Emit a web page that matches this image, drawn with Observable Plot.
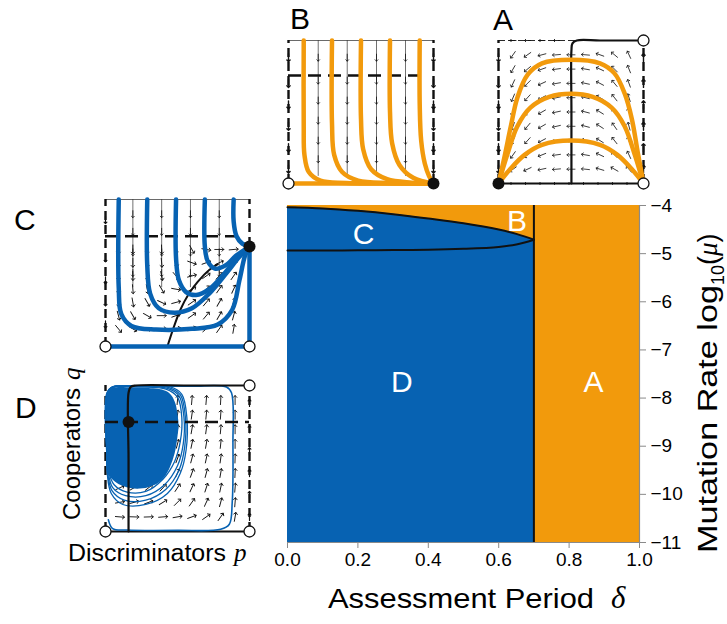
<!DOCTYPE html>
<html><head><meta charset="utf-8">
<script src="https://cdn.jsdelivr.net/npm/d3@7"></script>
<script src="https://cdn.jsdelivr.net/npm/@observablehq/plot@0.6"></script>
<style>
body{margin:0;background:#fff;}
#wrap{position:relative;width:727px;height:624px;overflow:hidden;font-family:"Liberation Sans",Arial,Helvetica,sans-serif;}
#wrap > svg, #wrap > figure{position:absolute;margin:0;}
</style></head><body><div id="wrap"></div>
<script>
// ---------- main chart data ----------
const deltaTicks = [0, 0.2, 0.4, 0.6, 0.8, 1.0];
const muTicks = [-4, -5, -6, -7, -8, -9, -10, -11];
const deltaCrit = 0.7;
const bcDelta = [0, 0.1, 0.2, 0.3, 0.4, 0.5, 0.6, 0.65, 0.7];
const cUpper  = [-4.035, -4.06, -4.11, -4.18, -4.27, -4.37, -4.5, -4.59, -4.71];
const cLower  = [-4.935, -4.935, -4.93, -4.925, -4.92, -4.9, -4.86, -4.81, -4.71];
const regionNames = ["C", "B", "D", "A"];
const regionDelta = [0.216, 0.652, 0.325, 0.869];
const regionMu    = [-4.6, -4.33, -7.68, -7.68];

// ---------- inset B ----------
const bCols = [0.205, 0.405, 0.607, 0.807];
const bArrowY = [0.88, 0.72, 0.58, 0.44, 0.3, 0.17];
const bEdgeY = [0.88, 0.7, 0.55, 0.4, 0.25, 0.1];
const bHoriz = 0.755;
const bTraj = [
  [[0.105,1],[0.105,0.4],[0.11,0.2],[0.14,0.08],[0.22,0.02],[0.4,0.004],[1,0]],
  [[0.3,1],[0.3,0.42],[0.315,0.2],[0.37,0.08],[0.48,0.02],[0.7,0.004],[1,0]],
  [[0.5,1],[0.5,0.45],[0.515,0.24],[0.57,0.1],[0.68,0.03],[0.85,0.006],[1,0]],
  [[0.7,1],[0.7,0.5],[0.715,0.28],[0.765,0.13],[0.86,0.04],[1,0]],
  [[0.905,1],[0.905,0.55],[0.915,0.3],[0.94,0.14],[0.97,0.05],[1,0]]
];
const bOpen = [[0,0]];
const bFilled = [[1,0]];

// ---------- inset A ----------
const aGridX = [0.1,0.2,0.3,0.4,0.5,0.6,0.7,0.8,0.9];
const aGridY = [0.9,0.8,0.7,0.6,0.5,0.4,0.3,0.2,0.1];
const aAngles = [
  [215,235,255,265,270,275,290,310,335],
  [210,230,250,262,270,280,295,315,338],
  [205,225,245,260,270,282,298,320,340],
  [203,222,242,258,270,284,300,322,342],
  [200,220,240,258,270,285,302,325,343],
  [200,220,240,257,270,285,303,325,345],
  [205,222,242,258,270,284,302,322,342],
  [215,230,248,262,270,280,295,315,335],
  [235,245,258,265,270,276,287,300,320]
];
const aArcs = [
  [[0,0],[0.04,0.18],[0.085,0.4],[0.13,0.6],[0.2,0.76],[0.3,0.84],[0.5,0.865],[0.7,0.84],[0.8,0.77],[0.87,0.63],[0.92,0.45],[0.96,0.22],[1,0]],
  [[0,0],[0.06,0.2],[0.13,0.4],[0.22,0.53],[0.35,0.605],[0.5,0.627],[0.65,0.605],[0.78,0.53],[0.87,0.4],[0.94,0.2],[1,0]],
  [[0,0],[0.08,0.1],[0.18,0.2],[0.3,0.27],[0.5,0.3],[0.7,0.27],[0.82,0.2],[0.92,0.1],[1,0]]
];
const aSeparatrix = [[0.503,0],[0.503,0.5],[0.503,0.93],[0.51,0.98],[0.54,1],[0.7,1],[1,1]];
const aEdgeY = [0.88, 0.7, 0.55, 0.4, 0.25, 0.1];
const aBorderX = [0.1,0.2,0.3,0.4,0.5,0.6,0.7,0.8,0.9];
const aOpen = [[1,0],[1,1]];
const aFilled = [[0,0]];

// ---------- inset C ----------
const cCols = [0.19, 0.39, 0.59, 0.79];
const cColArrowY = [0.9, 0.78, 0.64, 0.5];
const cGridX = [0.09,0.19,0.29,0.39,0.49,0.6,0.7,0.79,0.89];
const cGridY = [0.66,0.57,0.48,0.39,0.30,0.21,0.12];
const cAngles = [
  [180,180,180,178,175,150,100,90,85],
  [180,180,178,175,165,110,70,65,55],
  [180,178,175,168,140,75,55,45,35],
  [178,175,168,150,100,60,45,35,25],
  [175,170,150,115,75,55,40,30,20],
  [165,150,120,90,70,55,40,30,15],
  [140,120,100,85,75,65,50,35,10]
];
const cNode = 0.68;
const cHoriz = 0.75;
const cEdgeY = [0.86, 0.6, 0.45, 0.3, 0.15];
const cNullcline = [[0.43,0],[0.47,0.12],[0.52,0.25],[0.58,0.36],[0.64,0.44],[0.72,0.52],[0.78,0.56]];
const cTraj = [
  [[0.092,1],[0.092,0.4],[0.11,0.22],[0.18,0.14],[0.35,0.115],[0.6,0.12],[0.78,0.15],[0.88,0.25],[0.93,0.45],[0.97,0.62],[1,0.68]],
  [[0.29,1],[0.29,0.55],[0.31,0.36],[0.37,0.26],[0.48,0.23],[0.6,0.26],[0.72,0.36],[0.84,0.5],[0.93,0.61],[1,0.68]],
  [[0.49,1],[0.49,0.6],[0.51,0.45],[0.56,0.37],[0.63,0.35],[0.72,0.39],[0.82,0.49],[0.92,0.61],[1,0.68]],
  [[0.69,1],[0.69,0.68],[0.71,0.58],[0.76,0.53],[0.83,0.55],[0.91,0.62],[1,0.68]],
  [[0.89,1],[0.89,0.85],[0.91,0.75],[0.95,0.7],[1,0.68]]
];
const cOpen = [[0,0],[1,0]];

// ---------- inset D ----------
const dGridX = [0.1,0.2,0.3,0.4,0.5,0.6,0.7,0.8,0.9];
const dGridY = [0.9,0.8,0.7,0.6,0.5,0.4,0.3,0.2,0.1];
const dAngles = [
  [10,10,8,5,5,5,5,3,0],
  [15,12,10,8,8,8,6,4,0],
  [20,18,15,12,10,10,8,5,0],
  [30,25,20,18,15,12,10,6,0],
  [40,35,30,25,20,15,12,8,2],
  [50,45,40,32,25,20,15,10,3],
  [65,60,52,42,33,25,18,12,5],
  [80,75,68,58,45,35,25,15,5],
  [95,92,88,85,80,70,55,35,10]
];
const dBlobX   = [0.012,0.03,0.08,0.15,0.22,0.3,0.37,0.42,0.46,0.49,0.51];
const dBlobTop = [0.93,0.975,0.985,0.985,0.985,0.98,0.975,0.96,0.93,0.87,0.75];
const dBlobBot = [0.45,0.38,0.33,0.3,0.29,0.3,0.33,0.38,0.46,0.56,0.7];
const dLoops = [
  [[0.015,0.55],[0.02,0.95],[0.05,0.985],[0.25,0.99],[0.42,0.975],[0.5,0.92],[0.53,0.78],[0.52,0.62],[0.48,0.48],[0.4,0.36],[0.28,0.275],[0.15,0.27],[0.06,0.32],[0.02,0.42],[0.015,0.55]],
  [[0.012,0.55],[0.015,0.95],[0.05,0.99],[0.25,0.993],[0.43,0.98],[0.51,0.93],[0.545,0.78],[0.54,0.6],[0.5,0.45],[0.41,0.32],[0.28,0.245],[0.14,0.245],[0.05,0.3],[0.018,0.42],[0.012,0.55]],
  [[0.01,0.55],[0.012,0.95],[0.05,0.99],[0.25,0.995],[0.44,0.985],[0.52,0.935],[0.555,0.78],[0.55,0.58],[0.51,0.42],[0.42,0.29],[0.28,0.215],[0.13,0.215],[0.045,0.28],[0.015,0.4],[0.01,0.55]],
  [[0.008,0.55],[0.01,0.95],[0.05,0.99],[0.25,0.995],[0.45,0.99],[0.53,0.94],[0.565,0.78],[0.56,0.56],[0.52,0.4],[0.43,0.26],[0.28,0.185],[0.12,0.185],[0.04,0.26],[0.012,0.4],[0.008,0.55]]
];
const dOuter = [[0.02,0.96],[0.05,0.99],[0.3,0.995],[0.6,0.995],[0.84,0.99],[0.875,0.95],[0.885,0.6],[0.88,0.2],[0.86,0.05],[0.8,0.015],[0.5,0.008],[0.15,0.01],[0.05,0.02],[0.02,0.08]];
const dSeparatrix = [[0.16,0],[0.16,0.5],[0.16,0.95],[0.175,0.99],[0.21,1],[0.6,1],[1,1]];
const dHoriz = 0.75;
const dEdgeY = [0.88, 0.7, 0.55, 0.4, 0.25, 0.1];
const dFilled = [[0.16,0.75]];
const dOpen = [[0,0],[1,0],[1,1]];

// ---------- styles ----------
const BLUE = "#0762b2", ORANGE = "#f29a0c", INK = "#111";
const FONT = '"Liberation Sans", Arial, Helvetica, sans-serif';
const TICK_FONT = "19px";
const wrap = document.getElementById("wrap");

// ---------- main chart ----------
const regionRects = [
  {x1: 0, x2: deltaCrit, y1: -11, y2: -4, f: "D"},
  {x1: deltaCrit, x2: 1, y1: -11, y2: -4, f: "A"}
];
const bcTable = bcDelta.map((d, i) => ({d, up: cUpper[i], lo: cLower[i]}));
const labelTable = regionNames.map((t, i) => ({t, d: regionDelta[i], m: regionMu[i]}));

const main = Plot.plot({
  width: 727, height: 624,
  marginLeft: 287, marginRight: 88, marginTop: 205, marginBottom: 82,
  x: {domain: [0, 1]},
  y: {domain: [-11, -4]},
  style: {fontFamily: FONT, fontSize: TICK_FONT, background: "transparent", overflow: "visible"},
  marks: [
    Plot.rect(regionRects, {x1: "x1", x2: "x2", y1: "y1", y2: "y2", fill: d => d.f === "D" ? BLUE : ORANGE}),
    Plot.areaY(bcTable, {x: "d", y1: "up", y2: -4, fill: ORANGE, curve: "catmull-rom"}),
    Plot.line(bcTable, {x: "d", y: "up", stroke: INK, strokeWidth: 2, curve: "catmull-rom"}),
    Plot.line(bcTable, {x: "d", y: "lo", stroke: INK, strokeWidth: 2, curve: "catmull-rom"}),
    Plot.ruleX([deltaCrit], {y1: -11, y2: -4, stroke: INK, strokeWidth: 2}),
    Plot.text(labelTable, {x: "d", y: "m", text: "t", fill: "white", fontSize: 30, fontFamily: FONT}),
    Plot.ruleY([-11], {x1: 0, x2: 1, stroke: "#8a8a8a", strokeWidth: 1.2}),
    Plot.ruleX([1], {y1: -11, y2: -4, stroke: "#8a8a8a", strokeWidth: 1.2}),
    Plot.axisX({ticks: deltaTicks, tickFormat: d3.format(".1f"), tickSize: 6, tickPadding: 4, stroke: "#8a8a8a", fill: "#000", label: null}),
    Plot.axisY({anchor: "right", ticks: muTicks, tickFormat: d3.format("d"), tickSize: 6, tickPadding: 5, stroke: "#8a8a8a", fill: "#000", label: null})
  ]
});
main.style.left = "0px"; main.style.top = "0px";
d3.select(main).selectAll("text")
  .filter(function () { return !regionNames.includes(this.textContent); })
  .style("font-size", TICK_FONT);
wrap.appendChild(main);

// ---------- inset helper ----------
const M = 9;
function inset(marks, left, top, w, h) {
  const p = Plot.plot({
    width: w + 2 * M, height: h + 2 * M, margin: M,
    x: {domain: [0, 1], axis: null},
    y: {domain: [0, 1], axis: null},
    style: {background: "transparent", overflow: "visible"},
    marks
  });
  p.style.left = (left - M) + "px";
  p.style.top = (top - M) + "px";
  wrap.appendChild(p);
}
const pts = arr => arr.map(([x, y]) => ({x, y}));
const trajTable = list => list.flatMap((t, k) => t.map(([x, y]) => ({x, y, k})));
const grid = (gx, gy, ang) => gy.flatMap((y, i) => gx.map((x, j) => ({x, y, r: ang[i][j]})));
const cross = (xs, ys, r) => xs.flatMap(x => ys.map(y => ({x, y, r})));
const vec = (data, len, sw) => Plot.vector(data, {x: "x", y: "y", rotate: "r", length: len, anchor: "middle", stroke: INK, strokeWidth: sw});
const dashEdge = (xs, y1, y2) => Plot.ruleX(xs, {y1, y2, stroke: INK, strokeWidth: 2.4, strokeDasharray: "9,5"});
const openDots = d => Plot.dot(pts(d), {x: "x", y: "y", r: 5.5, fill: "white", stroke: INK, strokeWidth: 1.3});
const fillDots = d => Plot.dot(pts(d), {x: "x", y: "y", r: 6, fill: INK});

// ---------- B ----------
inset([
  Plot.ruleY([1], {x1: 0, x2: 1, stroke: "#444", strokeWidth: 0.8}),
  Plot.ruleX(bCols, {y1: 0.05, y2: 1, stroke: "#333", strokeWidth: 0.7}),
  vec(cross(bCols, bArrowY, 180), 7, 0.8),
  dashEdge([0, 1], 0, 1),
  vec(cross([0, 1], bEdgeY, 180), 8, 1.4),
  Plot.ruleY([bHoriz], {x1: 0, x2: 0.93, stroke: INK, strokeWidth: 2.4, strokeDasharray: "13,7"}),
  Plot.line(pts([[0,0],[1,0]]), {x: "x", y: "y", stroke: ORANGE, strokeWidth: 4.5}),
  Plot.line(trajTable(bTraj), {x: "x", y: "y", z: "k", stroke: ORANGE, strokeWidth: 4.5, curve: "catmull-rom"}),
  openDots(bOpen), fillDots(bFilled)
], 288, 40, 145, 143);

// ---------- A ----------
inset([
  Plot.ruleY([1], {x1: 0, x2: 0.54, stroke: INK, strokeWidth: 0.9, strokeDasharray: "7,3"}),
  vec(cross(aBorderX.filter(x => x < 0.5), [1], 270), 6, 0.9),
  vec(grid(aGridX, aGridY, aAngles), 8, 0.75),
  dashEdge([0, 1], 0, 1),
  vec(cross([0], aEdgeY, 180), 8, 1.4),
  vec(cross([1], aEdgeY, 0), 8, 1.4),
  Plot.ruleY([0], {x1: 0, x2: 1, stroke: INK, strokeWidth: 2}),
  vec(cross(aBorderX, [0.0], 270), 6, 0.9),
  Plot.line(pts(aSeparatrix), {x: "x", y: "y", stroke: INK, strokeWidth: 2.2, curve: "catmull-rom"}),
  Plot.line(trajTable(aArcs), {x: "x", y: "y", z: "k", stroke: ORANGE, strokeWidth: 4.5, curve: "catmull-rom"}),
  openDots(aOpen), fillDots(aFilled)
], 498, 40, 145, 143);

// ---------- C ----------
inset([
  Plot.ruleY([1], {x1: 0, x2: 1, stroke: "#444", strokeWidth: 0.8}),
  Plot.ruleX(cCols, {y1: 0.4, y2: 1, stroke: "#333", strokeWidth: 0.7}),
  vec(cross(cCols, cColArrowY, 180), 7, 0.8),
  vec(grid(cGridX, cGridY, cAngles), 9, 0.9),
  dashEdge([0], 0, 1),
  vec(cross([0], cEdgeY, 180), 7, 1.2),
  dashEdge([1], cNode, 1),
  Plot.ruleY([cHoriz], {x1: 0, x2: 0.96, stroke: INK, strokeWidth: 2.4, strokeDasharray: "13,7"}),
  Plot.line(pts(cNullcline), {x: "x", y: "y", stroke: INK, strokeWidth: 2, curve: "catmull-rom"}),
  Plot.line(pts([[0,0],[1,0],[1,cNode]]), {x: "x", y: "y", stroke: BLUE, strokeWidth: 4.5}),
  Plot.line(trajTable(cTraj), {x: "x", y: "y", z: "k", stroke: BLUE, strokeWidth: 4.5, curve: "catmull-rom"}),
  openDots(cOpen), fillDots([[1, cNode]])
], 105, 199, 144, 147);

// ---------- D ----------
const blobTable = dBlobX.map((x, i) => ({x, top: dBlobTop[i], bot: dBlobBot[i]}));
inset([
  vec(grid(dGridX, dGridY, dAngles), 9, 0.9),
  dashEdge([0, 1], 0, 1),
  vec(cross([1], dEdgeY, 0), 7, 1.2),
  Plot.ruleY([0], {x1: 0, x2: 1, stroke: INK, strokeWidth: 2}),
  Plot.line(pts(dOuter), {x: "x", y: "y", stroke: BLUE, strokeWidth: 1.6, curve: "catmull-rom"}),
  Plot.line(trajTable(dLoops), {x: "x", y: "y", z: "k", stroke: BLUE, strokeWidth: 1.3, curve: "catmull-rom"}),
  Plot.areaY(blobTable, {x: "x", y1: "bot", y2: "top", fill: BLUE, curve: "catmull-rom"}),
  Plot.ruleY([dHoriz], {x1: 0, x2: 1, stroke: INK, strokeWidth: 2.4, strokeDasharray: "13,7"}),
  Plot.line(pts(dSeparatrix), {x: "x", y: "y", stroke: INK, strokeWidth: 2.2, curve: "catmull-rom"}),
  openDots(dOpen), fillDots(dFilled)
], 105, 385, 144, 146);

// ---------- text overlay ----------
const svg = d3.create("svg").attr("width", 727).attr("height", 624)
  .style("left", "0px").style("top", "0px").style("pointer-events", "none")
  .style("font-family", FONT);
const big = [["B", 290, 29], ["A", 493, 30], ["C", 14, 230], ["D", 15, 418]];
big.forEach(([t, x, y]) => svg.append("text").attr("x", x).attr("y", y).attr("font-size", 30).text(t));

const serifIt = '"Liberation Serif", "DejaVu Serif", serif';
// x title
const xt = svg.append("text").attr("x", 328).attr("y", 608).attr("font-size", 28);
xt.append("tspan").attr("textLength", 266).attr("lengthAdjust", "spacingAndGlyphs").text("Assessment Period");
xt.append("tspan").attr("dx", 17).attr("font-family", serifIt).attr("font-style", "italic").attr("font-size", 31).text("δ");
// y title
const yt = svg.append("text").attr("transform", "translate(717,553) rotate(-90)").attr("font-size", 27);
yt.append("tspan").attr("textLength", 268).attr("lengthAdjust", "spacingAndGlyphs").text("Mutation Rate log");
yt.append("tspan").attr("font-size", 18).attr("dy", 7).text("10");
yt.append("tspan").attr("dy", -7).text("(");
yt.append("tspan").attr("font-family", serifIt).attr("font-style", "italic").text("μ");
yt.append("tspan").text(")");
// Cooperators q
const ct = svg.append("text").attr("transform", "translate(80,520) rotate(-90)").attr("font-size", 23);
ct.append("tspan").attr("textLength", 132).attr("lengthAdjust", "spacingAndGlyphs").text("Cooperators");
ct.append("tspan").attr("dx", 8).attr("font-family", serifIt).attr("font-style", "italic").attr("font-size", 25).text("q");
// Discriminators p
const dt = svg.append("text").attr("x", 68).attr("y", 561).attr("font-size", 23);
dt.append("tspan").attr("textLength", 158).attr("lengthAdjust", "spacingAndGlyphs").text("Discriminators");
dt.append("tspan").attr("dx", 8).attr("font-family", serifIt).attr("font-style", "italic").attr("font-size", 25).text("p");
wrap.appendChild(svg.node());
</script></body></html>
